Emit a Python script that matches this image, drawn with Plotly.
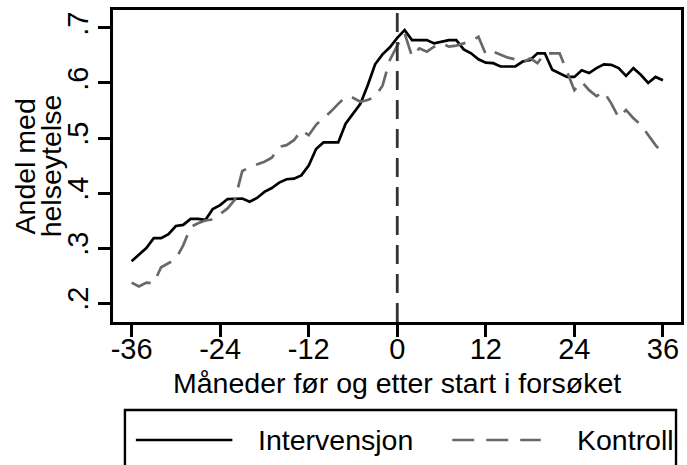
import plotly.graph_objects as go

months = list(range(-36, 37))
intervensjon = [0.276, 0.288, 0.300, 0.318, 0.318, 0.325, 0.340, 0.342, 0.353, 0.353,
                0.351, 0.371, 0.378, 0.389, 0.390, 0.390, 0.384, 0.391, 0.402, 0.409,
                0.419, 0.425, 0.426, 0.432, 0.450, 0.480, 0.492, 0.492, 0.492, 0.526,
                0.543, 0.562, 0.596, 0.634, 0.652, 0.665, 0.682, 0.696, 0.678, 0.678,
                0.678, 0.672, 0.675, 0.678, 0.678, 0.661, 0.654, 0.643, 0.637, 0.636,
                0.630, 0.630, 0.630, 0.639, 0.642, 0.654, 0.654, 0.624, 0.618, 0.611,
                0.611, 0.623, 0.618, 0.627, 0.634, 0.633, 0.627, 0.613, 0.627, 0.615,
                0.600, 0.611, 0.605]
kontroll = [0.237, 0.230, 0.237, 0.236, 0.265, 0.273, 0.280, 0.305, 0.338, 0.345,
            0.350, 0.352, 0.362, 0.372, 0.388, 0.440, 0.447, 0.452, 0.457, 0.464,
            0.484, 0.487, 0.496, 0.514, 0.505, 0.524, 0.536, 0.548, 0.562, 0.575,
            0.573, 0.566, 0.569, 0.575, 0.595, 0.642, 0.668, 0.690, 0.648, 0.663,
            0.657, 0.666, 0.672, 0.666, 0.668, 0.672, 0.676, 0.684, 0.652, 0.657,
            0.652, 0.646, 0.643, 0.637, 0.645, 0.636, 0.654, 0.654, 0.654, 0.621,
            0.587, 0.602, 0.587, 0.576, 0.584, 0.563, 0.537, 0.551, 0.536, 0.524,
            0.505, 0.487, 0.472]

x_ticks = [-36, -24, -12, 0, 12, 24, 36]
y_ticks = [0.2, 0.3, 0.4, 0.5, 0.6, 0.7]
y_ticktext = [".2", ".3", ".4", ".5", ".6", ".7"]
series_names = ["Intervensjon", "Kontroll"]
x_title = "Måneder før og etter start i forsøket"
y_title_lines = ["Andel med", "helseytelse"]

FONT = "Liberation Sans, Arial, sans-serif"
W, H = 687, 465
L, R, T, B = 113, 3, 10, 143
PW, PH = W - L - R, H - T - B

def px(xpix):
    return (xpix - L) / PW

def py(ypix):
    return (H - B - ypix) / PH

fig = go.Figure()
fig.add_trace(go.Scatter(x=months, y=intervensjon, mode="lines", name=series_names[0],
                         line=dict(color="black", width=2.7), showlegend=False))
fig.add_trace(go.Scatter(x=months, y=kontroll, mode="lines", name=series_names[1],
                         line=dict(color="#686868", width=2.7, dash="21px,11px"),
                         showlegend=False))

shapes = [
    dict(type="line", xref="x", yref="paper", x0=0, x1=0, y0=0, y1=1,
         line=dict(color="#333333", width=2.8, dash="19px,10px")),
    # legend box
    dict(type="rect", xref="paper", yref="paper", x0=px(125), x1=px(679), y0=py(410), y1=py(480),
         line=dict(color="black", width=2.4), fillcolor="rgba(0,0,0,0)"),
    dict(type="line", xref="paper", yref="paper", x0=px(136), x1=px(233), y0=py(440), y1=py(440),
         line=dict(color="black", width=2.7)),
    dict(type="line", xref="paper", yref="paper", x0=px(454), x1=px(543), y0=py(440), y1=py(440),
         line=dict(color="#686868", width=2.7, dash="22px,12px")),
]

annotations = [
    dict(text=x_title, xref="paper", yref="paper", x=0.5, y=py(383), xanchor="center",
         yanchor="middle", showarrow=False, font=dict(family=FONT, size=28.5, color="black")),
    dict(text=y_title_lines[0], xref="paper", yref="paper", x=px(25), y=0.5, xanchor="center",
         yanchor="middle", textangle=-90, showarrow=False,
         font=dict(family=FONT, size=28.5, color="black")),
    dict(text=y_title_lines[1], xref="paper", yref="paper", x=px(51), y=0.5, xanchor="center",
         yanchor="middle", textangle=-90, showarrow=False,
         font=dict(family=FONT, size=28.5, color="black")),
    dict(text=series_names[0], xref="paper", yref="paper", x=px(257), y=py(440), xanchor="left",
         yanchor="middle", showarrow=False, font=dict(family=FONT, size=28.5, color="black")),
    dict(text=series_names[1], xref="paper", yref="paper", x=px(577), y=py(440), xanchor="left",
         yanchor="middle", showarrow=False, font=dict(family=FONT, size=28.5, color="black")),
]

fig.update_layout(
    width=W, height=H,
    margin=dict(l=L, r=R, t=T, b=B, pad=0),
    paper_bgcolor="white", plot_bgcolor="white",
    font=dict(family=FONT, size=29, color="black"),
    shapes=shapes, annotations=annotations,
    showlegend=False,
)
fig.update_xaxes(range=[-38.52, 38.45], tickmode="array", tickvals=x_ticks,
                 ticktext=[str(v) for v in x_ticks], ticks="outside", ticklen=12, tickwidth=2.5,
                 tickcolor="black", showline=True, linewidth=2.7, linecolor="black", mirror=True,
                 showgrid=False, zeroline=False, ticklabelstandoff=-13,
                 tickfont=dict(family=FONT, size=29, color="black"))
fig.update_yaxes(range=[0.1655, 0.7327], tickmode="array", tickvals=y_ticks, ticktext=y_ticktext,
                 tickangle=-90, ticks="outside", ticklen=12, tickwidth=2.5, tickcolor="black",
                 showline=True, linewidth=2.7, linecolor="black", mirror=True, showgrid=False,
                 zeroline=False, ticklabelstandoff=-1,
                 tickfont=dict(family=FONT, size=29, color="black"))

fig.write_html("out.html", config={"displayModeBar": False},
               post_script="document.body.style.margin='0px';document.body.style.overflow='hidden';")
